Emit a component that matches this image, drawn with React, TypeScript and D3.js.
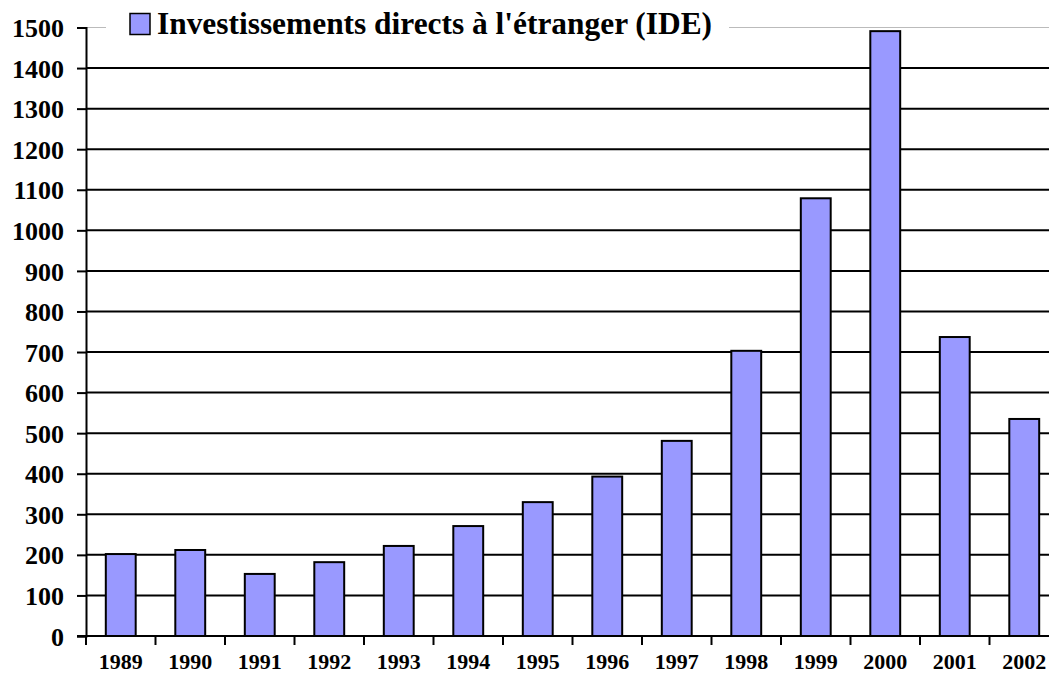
import * as d3 from 'd3';
import { useRef, useEffect } from 'react';

const years = ['1989', '1990', '1991', '1992', '1993', '1994', '1995', '1996', '1997', '1998', '1999', '2000', '2001', '2002'];
const ide = [202, 212, 153, 182, 222, 271, 330, 393, 481, 703, 1079, 1491, 737, 535];
const yTicks = [0, 100, 200, 300, 400, 500, 600, 700, 800, 900, 1000, 1100, 1200, 1300, 1400, 1500];
const legendLabel = "Investissements directs à l'étranger (IDE)";

function App() {
    const svgRef = useRef<SVGSVGElement>(null);
    const width = 1049;
    const height = 676;

    useEffect(() => {
        const svg = d3.select(svgRef.current);
        svg.selectAll('*').remove();

        const left = 86;
        const x = d3.scaleBand<string>()
            .domain(years)
            .range([left, left + 69.5 * years.length])
            .paddingInner(0.57)
            .paddingOuter(0.285);

        const y = d3.scaleLinear()
            .domain([0, 1500])
            .range([636, 27.5]);

        const font = '"Liberation Serif", "Times New Roman", serif';

        // Gridlines
        svg.append('g')
            .selectAll('line')
            .data(yTicks.filter(d => d > 0))
            .enter()
            .append('line')
            .attr('x1', left)
            .attr('x2', width)
            .attr('y1', d => y(d))
            .attr('y2', d => y(d))
            .attr('stroke', d => (d === 1500 ? '#bbb' : '#000'))
            .attr('stroke-width', d => (d === 1500 ? 1 : 2));

        // Bars
        svg.append('g')
            .selectAll('rect')
            .data(ide)
            .enter()
            .append('rect')
            .attr('x', (d, i) => x(years[i])!)
            .attr('y', d => y(d))
            .attr('width', x.bandwidth())
            .attr('height', d => y(0) - y(d))
            .attr('fill', '#9999ff')
            .attr('stroke', '#000')
            .attr('stroke-width', 2);

        // Y axis
        const yAxis = svg.append('g')
            .attr('transform', `translate(${left},0)`)
            .call(d3.axisLeft(y).tickValues(yTicks).tickSize(9).tickFormat(d3.format('d')));
        yAxis.select('.domain').attr('stroke', '#000').attr('stroke-width', 2);
        yAxis.selectAll('.tick line').attr('stroke', '#000').attr('stroke-width', 2);
        yAxis.selectAll('.tick text')
            .attr('x', -22)
            .attr('dy', '0.35em')
            .attr('fill', '#000')
            .style('font-family', font)
            .style('font-weight', 'bold')
            .style('font-size', '26px');

        // X axis
        const xAxis = svg.append('g')
            .attr('transform', `translate(0,${y(0)})`);
        xAxis.append('line')
            .attr('x1', left - 9)
            .attr('x2', width)
            .attr('stroke', '#000')
            .attr('stroke-width', 2);
        xAxis.selectAll('line.tick')
            .data(d3.range(years.length + 1))
            .enter()
            .append('line')
            .attr('class', 'tick')
            .attr('x1', i => left + 69.5 * i)
            .attr('x2', i => left + 69.5 * i)
            .attr('y1', 0)
            .attr('y2', 9)
            .attr('stroke', '#000')
            .attr('stroke-width', 2);
        xAxis.selectAll('text')
            .data(years)
            .enter()
            .append('text')
            .attr('x', d => x(d)! + x.bandwidth() / 2)
            .attr('y', 33)
            .attr('text-anchor', 'middle')
            .attr('fill', '#000')
            .style('font-family', font)
            .style('font-weight', 'bold')
            .style('font-size', '22px')
            .text(d => d);

        // Legend
        const lg = svg.append('g');
        lg.append('rect')
            .attr('x', 106)
            .attr('y', 8)
            .attr('width', 623)
            .attr('height', 36)
            .attr('fill', '#fff');
        lg.append('rect')
            .attr('x', 130)
            .attr('y', 13.5)
            .attr('width', 20)
            .attr('height', 21)
            .attr('fill', '#9999ff')
            .attr('stroke', '#000')
            .attr('stroke-width', 1.5);
        lg.append('text')
            .attr('x', 157)
            .attr('y', 34)
            .attr('fill', '#000')
            .style('font-family', font)
            .style('font-weight', 'bold')
            .style('font-size', '31.4px')
            .text(legendLabel);
    }, []);

    return (
        <svg
            ref={svgRef}
            width={width}
            height={height}
            style={{ position: 'absolute', left: 0, top: 0, background: '#fff' }}
        ></svg>
    );
}

export default App;
